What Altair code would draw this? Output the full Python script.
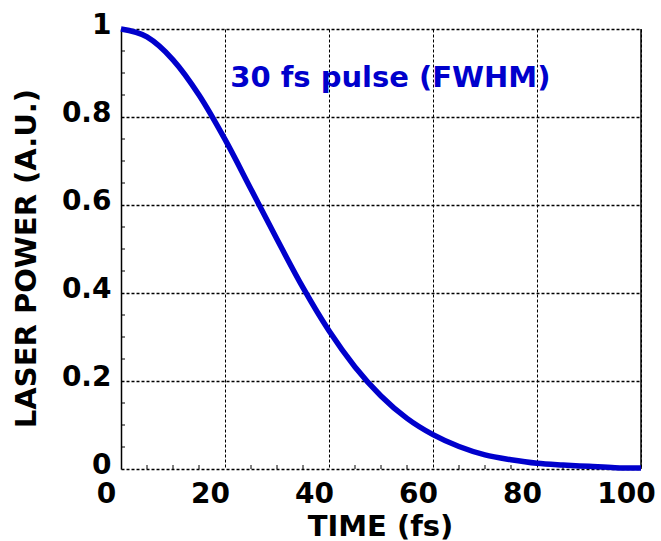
import altair as alt
import pandas as pd

# ---- data ----
time_fs = [0, 5, 10, 15, 20, 25, 30, 35, 40, 45, 50, 55, 60, 65, 70, 75, 80, 85, 90, 95, 100]
power = [1.0, 0.982, 0.930, 0.850, 0.749, 0.636, 0.522, 0.412, 0.314, 0.232, 0.166,
         0.115, 0.078, 0.051, 0.032, 0.021, 0.013, 0.009, 0.006, 0.003, 0.002]

x_ticks = [0, 20, 40, 60, 80, 100]
x_tick_labels = ["0", "20", "40", "60", "80", "100"]
y_ticks = [0, 0.2, 0.4, 0.6, 0.8, 1.0]
y_tick_labels = ["0", "0.2", "0.4", "0.6", "0.8", "1"]
x_minor = [5, 10, 15, 25, 30, 35, 45, 50, 55, 65, 70, 75, 85, 90, 95]
y_minor = [0.05, 0.1, 0.15, 0.25, 0.3, 0.35, 0.45, 0.5, 0.55, 0.65, 0.7, 0.75, 0.85, 0.9, 0.95]

annotation_text = ["30 fs pulse (FWHM)"]
annotation_t = [21]
annotation_p = [0.868]

x_title = "TIME (fs)"
y_title = "LASER POWER (A.U.)"

# ---- style ----
W, H = 520, 440
FONT = "DejaVu Sans"
BLUE = "#0000CC"


def label_expr(values, labels):
    parts = []
    for v, l in zip(values, labels):
        parts.append(f"abs(datum.value - {v}) < 1e-6 ? '{l}'")
    return " : ".join(parts) + " : ''"


xs = alt.Scale(domain=[0, 100], nice=False, zero=False)
ys = alt.Scale(domain=[0, 1], nice=False, zero=False)

x_axis = alt.Axis(
    values=x_ticks, labelExpr=label_expr(x_ticks, x_tick_labels), title=x_title,
    grid=True, gridColor="black", gridDash=[3, 2], gridWidth=1, gridOpacity=1,
    domain=False, ticks=False, tickSize=0,
    labelFont=FONT, labelFontSize=28, labelFontWeight="bold", labelColor="black",
    labelBaseline="alphabetic", labelPadding=33, labelOffset=-15,
    labelFlush=False, labelOverlap=False,
    titleFont=FONT, titleFontSize=29, titleFontWeight="bold", titleColor="black",
    titleX=259, titleY=66, titleBaseline="alphabetic", titleAlign="center",
)
y_axis = alt.Axis(
    values=y_ticks, labelExpr=label_expr(y_ticks, y_tick_labels), title=y_title,
    grid=True, gridColor="black", gridDash=[3, 2], gridWidth=1.3, gridOpacity=1,
    domain=True, domainColor="black", domainWidth=1.5, ticks=False, tickSize=0,
    labelFont=FONT, labelFontSize=28, labelFontWeight="bold", labelColor="black",
    labelBaseline="middle", labelPadding=10, labelOffset=-4,
    labelFlush=False, labelOverlap=False,
    titleFont=FONT, titleFontSize=29, titleFontWeight="bold", titleColor="black",
    titleAngle=270, titleX=-95, titleY=229, titleBaseline="middle", titleAlign="center",
)

X = alt.X("t:Q", scale=xs, axis=x_axis)
Y = alt.Y("p:Q", scale=ys, axis=y_axis)

df = pd.DataFrame({"t": time_fs, "p": power})

line = alt.Chart(df).mark_line(
    color=BLUE, strokeWidth=5.5, strokeCap="butt", interpolate="monotone"
).encode(x=X, y=Y)

ann = alt.Chart(pd.DataFrame({"t": annotation_t, "p": annotation_p, "label": annotation_text})).mark_text(
    align="left", baseline="alphabetic", font=FONT, fontSize=29, fontWeight="bold", color=BLUE
).encode(x=X, y=Y, text="label:N")

xminor = alt.Chart(pd.DataFrame({"t": x_minor})).mark_rule(color="black", strokeWidth=1).encode(
    x=X, y=alt.value(H), y2=alt.value(H - 4),
)

yminor = alt.Chart(pd.DataFrame({"p": y_minor})).mark_rule(color="black", strokeWidth=1).encode(
    y=Y, x=alt.value(0), x2=alt.value(4),
)

border = alt.Chart(pd.DataFrame({"t": [100], "p": [0], "p2": [1]})).mark_rule(
    color="black", strokeWidth=1.5
).encode(x=X, y=Y, y2="p2:Q")

chart = alt.layer(xminor, yminor, border, line, ann).properties(
    width=W, height=H,
    padding={"left": 121, "top": 29, "right": 20, "bottom": 72},
    autosize=alt.AutoSizeParams(type="none"),
    background="white",
).configure_view(stroke=None)

chart.save("out.html", embed_options={"renderer": "svg", "actions": False})
